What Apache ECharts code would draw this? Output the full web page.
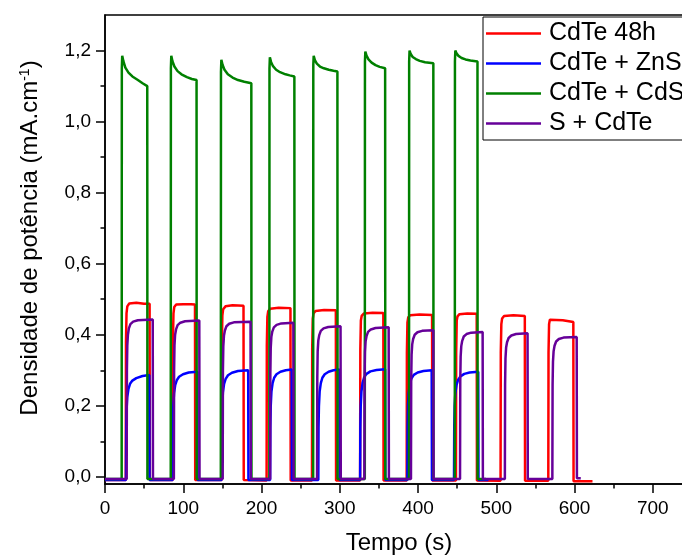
<!DOCTYPE html>
<html>
<head>
<meta charset="utf-8">
<script src="https://cdn.jsdelivr.net/npm/echarts@6/dist/echarts.min.js"></script>
<style>
html,body{margin:0;padding:0;background:#fff;overflow:hidden;}
#chart{width:682px;height:556px;}
</style>
</head>
<body>
<div id="chart"></div>
<script>
var FONT = "'Liberation Sans', Arial, sans-serif";

var seriesNames = ['CdTe 48h', 'CdTe + ZnS', 'CdTe + CdS', 'S + CdTe'];
var seriesColors = ['#ff0000', '#0000ff', '#008000', '#660099'];

// tempo (s), densidade (mA.cm-1)
var cdte48h = [
  [0,-0.009],
  [26.5,-0.009],[26.8,0.38],[27.5,0.46],[28.5,0.48],[31,0.488],[40,0.49],[50,0.487],[57,0.487],[57.3,-0.009],
  [86.5,-0.009],[86.8,0.38],[87.5,0.46],[88.5,0.478],[91,0.485],[100,0.486],[110,0.486],[115,0.485],[115.3,-0.009],
  [149,-0.009],[149.3,0.37],[150,0.455],[151,0.472],[154,0.48],[163,0.483],[177,0.482],[177.3,-0.009],
  [206.5,-0.01],[206.8,0.37],[207.5,0.45],[208.5,0.466],[211,0.473],[222,0.476],[237,0.475],[237.3,-0.01],
  [264.5,-0.01],[264.8,0.36],[265.5,0.445],[266.5,0.46],[269,0.467],[280,0.47],[295,0.469],[295.3,-0.01],
  [326,-0.01],[326.3,0.36],[327,0.44],[328,0.453],[331,0.46],[342,0.462],[355.7,0.461],[356,-0.01],
  [385.5,-0.01],[385.8,0.35],[386.5,0.435],[387.5,0.449],[390,0.455],[402,0.457],[418,0.456],[418.3,-0.01],
  [448.5,-0.01],[448.8,0.35],[449.5,0.44],[450.5,0.452],[453,0.458],[463,0.46],[475,0.459],[475.3,-0.01],
  [505.5,-0.011],[505.8,0.35],[506.5,0.43],[507.5,0.446],[510,0.453],[522,0.455],[536.5,0.453],[536.8,-0.011],
  [566.5,-0.011],[566.8,0.35],[567.5,0.43],[568.5,0.442],[571,0.446],[585,0.441],[598.5,0.436],[598.8,-0.012],
  [623,-0.012]
];

var cdteZnS = [
  [0,-0.009],
  [26.8,-0.009],[27.1,0.13],[27.6,0.19],[28.5,0.225],[30,0.248],[32,0.262],[35,0.271],[40,0.278],[48,0.284],[56.6,0.287],[56.9,-0.009],
  [86.5,-0.009],[86.8,0.14],[87.3,0.2],[88.2,0.235],[89.7,0.258],[91.7,0.272],[94.7,0.282],[99.7,0.289],[107,0.294],[118,0.296],[118.3,-0.009],
  [149,-0.009],[149.3,0.14],[149.8,0.2],[150.7,0.238],[152.2,0.262],[154.2,0.276],[157.2,0.286],[162.2,0.293],[170,0.298],[183,0.3],[183.3,-0.009],
  [211,-0.009],[211.3,0.14],[211.8,0.2],[212.7,0.24],[214.2,0.264],[216.2,0.279],[219.2,0.289],[224.2,0.296],[231,0.3],[238.6,0.302],[238.9,-0.009],
  [272.6,-0.009],[272.9,0.14],[273.4,0.2],[274.3,0.24],[275.8,0.264],[277.8,0.279],[280.8,0.289],[285.8,0.296],[292,0.3],[299.5,0.302],[299.8,-0.009],
  [326,-0.009],[326.3,0.14],[326.8,0.2],[327.7,0.24],[329.2,0.265],[331.2,0.28],[334.2,0.29],[339.2,0.297],[347,0.301],[358,0.303],[358.3,-0.009],
  [386.4,-0.009],[386.7,0.14],[387.2,0.2],[388.1,0.238],[389.6,0.262],[391.6,0.277],[394.6,0.287],[399.6,0.294],[407,0.298],[417.5,0.3],[417.8,-0.009],
  [446,-0.009],[446.3,0.14],[446.8,0.2],[447.7,0.235],[449.2,0.258],[451.2,0.273],[454.2,0.283],[459.2,0.29],[466,0.294],[477,0.296],[477.3,-0.009],
  [490,-0.009]
];

var cdteCdS = [
  [0,-0.006],
  [21.3,-0.006],[21.5,1.15],[22,1.185],[23.5,1.17],[26,1.152],[30,1.138],[35,1.127],[42,1.117],[48,1.108],[54,1.1],[54.2,-0.006],
  [84,-0.006],[84.2,1.15],[84.7,1.185],[86.2,1.17],[88.7,1.155],[92.7,1.142],[97.7,1.133],[104.7,1.125],[111,1.12],[117,1.117],[117.2,-0.006],
  [148,-0.006],[148.2,1.14],[148.7,1.174],[150.2,1.16],[152.7,1.146],[157,1.133],[163,1.124],[170,1.117],[178,1.112],[187,1.108],[187.2,-0.006],
  [210,-0.006],[210.2,1.15],[210.7,1.181],[212.2,1.168],[214.7,1.156],[218.7,1.146],[223.7,1.139],[230.7,1.133],[236,1.13],[242,1.127],[242.2,-0.006],
  [266,-0.006],[266.2,1.16],[266.7,1.185],[268.2,1.173],[270.7,1.163],[274.7,1.155],[279.7,1.15],[286,1.146],[292,1.143],[297,1.141],[297.2,-0.006],
  [332,-0.006],[332.2,1.17],[332.7,1.197],[334.2,1.186],[336.7,1.175],[340.7,1.166],[345.7,1.159],[351,1.154],[358,1.15],[358.2,-0.006],
  [388.5,-0.006],[388.7,1.17],[389.2,1.2],[390.7,1.19],[393.2,1.182],[397.2,1.176],[402.2,1.171],[409,1.167],[419.6,1.164],[419.8,-0.006],
  [447,-0.006],[447.2,1.17],[447.7,1.2],[449.2,1.192],[451.7,1.185],[455.7,1.179],[460.7,1.175],[467,1.172],[476,1.169],[476.2,-0.006],
  [487,-0.006]
];

var sCdTe = [
  [0,-0.006],
  [27.7,-0.006],[28,0.3],[28.5,0.37],[29.3,0.4],[30.5,0.418],[32.5,0.43],[36,0.437],[42,0.441],[61,0.443],[61.3,-0.006],
  [88,-0.006],[88.3,0.3],[88.8,0.37],[89.6,0.4],[90.8,0.415],[92.8,0.427],[96.3,0.434],[102.3,0.438],[120.5,0.44],[120.8,-0.006],
  [150.4,-0.006],[150.7,0.3],[151.2,0.367],[152,0.397],[153.2,0.412],[155.2,0.424],[158.7,0.431],[164.7,0.435],[186,0.437],[186.3,-0.006],
  [211,-0.006],[211.3,0.29],[211.8,0.364],[212.6,0.394],[213.8,0.409],[215.8,0.421],[219.3,0.428],[225.3,0.432],[240.7,0.434],[241,-0.006],
  [271,-0.006],[271.3,0.28],[271.8,0.354],[272.6,0.384],[273.8,0.399],[275.8,0.411],[279.3,0.418],[285.3,0.422],[301,0.424],[301.3,-0.006],
  [331.4,-0.006],[331.7,0.28],[332.2,0.351],[333,0.381],[334.2,0.396],[336.2,0.408],[339.7,0.415],[345.7,0.419],[362.5,0.421],[362.8,-0.006],
  [391,-0.006],[391.3,0.27],[391.8,0.343],[392.6,0.373],[393.8,0.388],[395.8,0.4],[399.3,0.407],[405.3,0.411],[419.6,0.413],[419.9,-0.006],
  [453.7,-0.006],[454,0.27],[454.5,0.338],[455.3,0.368],[456.5,0.383],[458.5,0.395],[462,0.402],[468,0.406],[482.6,0.408],[482.9,-0.006],
  [511,-0.006],[511.3,0.26],[511.8,0.334],[512.6,0.364],[513.8,0.379],[515.8,0.391],[519.3,0.398],[525.3,0.402],[540,0.404],[540.3,-0.006],
  [571.7,-0.006],[572,0.26],[572.5,0.324],[573.3,0.354],[574.5,0.369],[576.5,0.381],[580,0.388],[586,0.392],[602.8,0.394],[603.1,-0.004],
  [608,-0.004]
];

var seriesData = [cdte48h, cdteZnS, cdteCdS, sCdTe];

var yMajorTicks = [0, 0.2, 0.4, 0.6, 0.8, 1.0, 1.2];
var yMinorTicks = [0.1, 0.3, 0.5, 0.7, 0.9, 1.1];

var chart = echarts.init(document.getElementById('chart'));

var series = [];
for (var i = 0; i < seriesNames.length; i++) {
  series.push({
    name: seriesNames[i],
    type: 'line',
    data: seriesData[i],
    symbol: 'none',
    color: seriesColors[i],
    lineStyle: {width: 2.5, color: seriesColors[i]},
    animation: false
  });
}

var option = {
  animation: false,
  grid: {
    left: 105, top: 15, width: 626, height: 469,
    outerBoundsMode: 'none',
    containLabel: false,
    show: true, borderColor: '#000', borderWidth: 1.5, backgroundColor: 'transparent'
  },
  legend: {
    data: seriesNames,
    orient: 'vertical',
    left: 483, top: 17,
    icon: 'rect',
    itemWidth: 55, itemHeight: 2.5,
    itemGap: 5,
    padding: [4, 10, 4, 3],
    borderColor: '#000', borderWidth: 1,
    backgroundColor: '#fff',
    textStyle: {fontFamily: FONT, fontSize: 25, color: '#000', padding: [0, 0, 0, 3]}
  },
  xAxis: {
    type: 'value',
    min: 0, max: 800, interval: 100,
    splitLine: {show: false},
    axisLine: {onZero: false, lineStyle: {color: '#000', width: 1.5}},
    axisTick: {length: 9, lineStyle: {color: '#000', width: 1.5}},
    minorTick: {show: true, splitNumber: 2, length: 4.5, lineStyle: {color: '#000', width: 1.5}},
    minorSplitLine: {show: false},
    axisLabel: {fontFamily: FONT, fontSize: 19, color: '#000', margin: 15, showMaxLabel: false}
  },
  yAxis: [{
    type: 'value',
    min: -0.02, max: 1.3,
    splitLine: {show: false},
    axisLine: {onZero: false, lineStyle: {color: '#000', width: 1.5}},
    axisTick: {length: 9, customValues: yMajorTicks, lineStyle: {color: '#000', width: 1.5}},
    axisLabel: {
      fontFamily: FONT, fontSize: 19, color: '#000', margin: 14,
      customValues: yMajorTicks,
      formatter: function (v) { return v.toFixed(1).replace('.', ','); }
    }
  }, {
    type: 'value',
    min: -0.02, max: 1.3,
    position: 'left',
    splitLine: {show: false},
    axisLine: {show: false},
    axisTick: {length: 4.5, customValues: yMinorTicks, lineStyle: {color: '#000', width: 1.5}},
    axisLabel: {show: false}
  }],
  graphic: [{
    type: 'text',
    x: 30, y: 238,
    rotation: Math.PI / 2,
    style: {
      text: 'Densidade de potência (mA.cm{sup|-1})',
      font: '24px ' + FONT,
      fill: '#000',
      align: 'center',
      verticalAlign: 'middle',
      rich: {sup: {fontSize: 14, fontFamily: FONT, verticalAlign: 'top', fill: '#000'}}
    }
  }, {
    type: 'text',
    x: 399, y: 543,
    style: {
      text: 'Tempo (s)',
      font: '24px ' + FONT,
      fill: '#000',
      align: 'center',
      verticalAlign: 'middle'
    }
  }],
  series: series
};

chart.setOption(option);
</script>
</body>
</html>
